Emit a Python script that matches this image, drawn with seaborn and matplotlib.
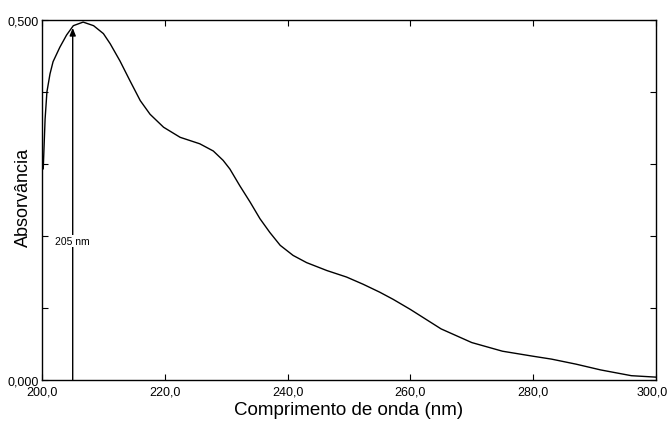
import matplotlib
matplotlib.use("Agg")
import matplotlib.pyplot as plt
import matplotlib.transforms as mtransforms
import seaborn as sns
import numpy as np
import pandas as pd

# UV absorption spectrum
wavelength_nm = [200.2, 200.5, 200.8, 201.3, 201.8, 202.9, 204.0, 205.1, 206.7, 208.4,
                 210.0, 211.1, 212.7, 214.3, 216.0, 217.6, 219.8, 222.5, 225.7, 227.9,
                 229.5, 230.6, 232.2, 233.9, 235.5, 237.1, 238.8, 240.9, 243.1, 246.4,
                 249.6, 252.3, 255.0, 257.2, 260.0, 265.0, 270.0, 275.0, 280.0, 283.0,
                 287.0, 291.0, 296.0, 300.0]
absorbance = [0.293, 0.362, 0.400, 0.425, 0.442, 0.462, 0.479, 0.492, 0.497, 0.492,
              0.481, 0.467, 0.443, 0.416, 0.388, 0.369, 0.351, 0.337, 0.328, 0.318,
              0.305, 0.293, 0.270, 0.247, 0.224, 0.205, 0.187, 0.173, 0.163, 0.152,
              0.143, 0.133, 0.122, 0.112, 0.098, 0.071, 0.052, 0.040, 0.033, 0.029,
              0.022, 0.014, 0.006, 0.004]

peak_nm = 205
peak_label = "205 nm"
x_ticks = [200, 220, 240, 260, 280, 300]
x_tick_labels = ["200,0", "220,0", "240,0", "260,0", "280,0", "300,0"]
y_ticks = [0.0, 0.1, 0.2, 0.3, 0.4, 0.5]
y_tick_labels = ["0,000", "", "", "", "", "0,500"]

sns.set_style("white")
plt.rcParams["font.family"] = ["Liberation Sans", "DejaVu Sans"]
plt.rcParams["text.color"] = "black"
plt.rcParams["axes.labelcolor"] = "black"

fig = plt.figure(figsize=(6.70, 4.27), dpi=100)
ax = fig.add_axes([0.0627, 0.1077, 0.9163, 0.8433])

df = pd.DataFrame({"nm": wavelength_nm, "A": absorbance})
sns.lineplot(data=df, x="nm", y="A", ax=ax, color="black", linewidth=1.0)

# arrow marking the absorption maximum
ax.annotate("", xy=(peak_nm, 0.489), xytext=(peak_nm, 0.0),
            arrowprops=dict(arrowstyle="-|>,head_length=0.45,head_width=0.18",
                            color="black", lw=1.0, shrinkA=0, shrinkB=0))
ax.text(peak_nm, 0.193, peak_label, ha="center", va="center", fontsize=7.5,
        color="black", bbox=dict(facecolor="white", edgecolor="none", pad=1.0))

ax.set_xlim(200, 300)
ax.set_ylim(0, 0.5)
ax.set_xticks(x_ticks)
ax.set_xticklabels(x_tick_labels)
ax.set_yticks(y_ticks)
ax.set_yticklabels(y_tick_labels)
ax.tick_params(axis="both", direction="in", length=4, width=0.8, colors="black",
               labelcolor="black", labelsize=9.0, left=True, bottom=True,
               top=True, right=True, pad=2)
ax.tick_params(axis="x", pad=4)

# keep the last wavelength label inside the figure edge
last = ax.get_xticklabels()[-1]
last.set_transform(last.get_transform() +
                   mtransforms.ScaledTranslation(-3 / 72, 0, fig.dpi_scale_trans))

ax.set_xlabel("Comprimento de onda (nm)", fontsize=13.5, color="black")
ax.set_ylabel("Absorvância", fontsize=13, color="black")
ax.xaxis.set_label_coords(0.5, -0.058)
ax.yaxis.set_label_coords(-0.016, 0.51)

for side in ["left", "right", "top", "bottom"]:
    ax.spines[side].set_visible(True)
    ax.spines[side].set_color("black")
    ax.spines[side].set_linewidth(1.0)

fig.savefig("out.png", dpi=100, facecolor="white")
